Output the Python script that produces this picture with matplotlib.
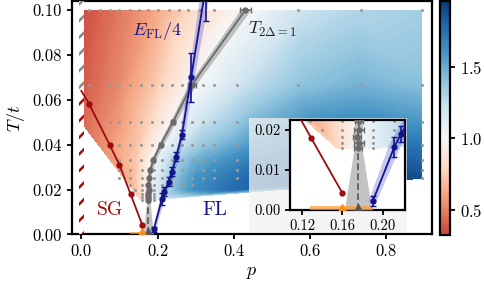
import numpy as np
import matplotlib.pyplot as plt
import matplotlib.tri as mtri
from matplotlib.colors import Normalize
from matplotlib.patches import Rectangle
from matplotlib.ticker import FormatStrFormatter

plt.rcParams["font.family"] = "serif"
plt.rcParams["font.serif"] = ["cmr10"]
plt.rcParams["mathtext.fontset"] = "cm"
plt.rcParams["axes.formatter.use_mathtext"] = True
plt.rcParams["axes.linewidth"] = 1.6
plt.rcParams["hatch.linewidth"] = 1.8

# colour field (value at each simulated point)
field_T = [0.1, 0.0667, 0.05, 0.04, 0.0333, 0.025, 0.02, 0.0154]
field_p = [
    [0.0, 0.1, 0.2, 0.3, 0.43, 0.57, 0.73, 0.893],
    [0.0, 0.1, 0.2, 0.29, 0.43, 0.57, 0.73, 0.893],
    [0.0, 0.1, 0.18, 0.24, 0.32, 0.45, 0.6, 0.75, 0.893],
    [0.074, 0.15, 0.209, 0.26, 0.32, 0.45, 0.6, 0.75, 0.893],
    [0.1, 0.15, 0.189, 0.24, 0.3, 0.45, 0.6, 0.75, 0.893],
    [0.128, 0.155, 0.177, 0.2, 0.25, 0.3, 0.45, 0.6, 0.75, 0.893],
    [0.14, 0.16, 0.176, 0.2, 0.25, 0.3, 0.41],
    [0.155, 0.175, 0.19],
]
field_z = [
    [0.34, 0.47, 0.62, 0.82, 1.0, 1.2, 1.3, 1.34],
    [0.38, 0.52, 0.74, 0.98, 1.22, 1.4, 1.47, 1.42],
    [0.42, 0.57, 0.78, 1.0, 1.22, 1.45, 1.6, 1.63, 1.58],
    [0.56, 0.72, 1.0, 1.2, 1.38, 1.58, 1.72, 1.78, 1.72],
    [0.62, 0.76, 1.0, 1.3, 1.48, 1.7, 1.82, 1.86, 1.8],
    [0.65, 0.8, 1.0, 1.15, 1.42, 1.6, 1.8, 1.9, 1.95, 1.88],
    [0.68, 0.86, 1.0, 1.15, 1.45, 1.62, 1.78],
    [0.78, 1.0, 1.08],
]

# grid of simulated points (grey dots)
dot_T = [0.1, 0.0667, 0.05, 0.04, 0.0333, 0.0286, 0.025, 0.0222, 0.02, 0.0182, 0.0167, 0.0154]
dot_p = [
    [0.0, 0.019, 0.05, 0.076, 0.1, 0.127, 0.15, 0.176, 0.202, 0.229, 0.255, 0.281, 0.31, 0.347, 0.568, 0.733, 0.893],
    [0.0, 0.019, 0.074, 0.1, 0.128, 0.156, 0.185, 0.211, 0.237, 0.264, 0.294, 0.32, 0.348, 0.408, 0.568, 0.733, 0.893],
    [0.0, 0.074, 0.1, 0.128, 0.156, 0.185, 0.211, 0.24, 0.264, 0.29, 0.32, 0.348, 0.408, 0.893],
    [0.074, 0.1, 0.128, 0.156, 0.185, 0.209, 0.237, 0.264, 0.29, 0.32, 0.348, 0.408, 0.893],
    [0.1, 0.128, 0.156, 0.185, 0.211, 0.237, 0.264, 0.29, 0.32, 0.348, 0.408, 0.893],
    [0.1, 0.128, 0.16, 0.19, 0.211, 0.237, 0.264, 0.29, 0.32, 0.348, 0.408, 0.893],
    [0.1, 0.128, 0.16, 0.19, 0.211, 0.237, 0.264, 0.29, 0.32, 0.348, 0.408, 0.893],
    [0.128, 0.16, 0.19, 0.211, 0.237, 0.264, 0.29],
    [0.14, 0.16, 0.19, 0.211],
    [0.16, 0.19],
    [0.16, 0.19],
    [0.16, 0.19],
]

# spin glass boundary
sg_p = [0.0, 0.021, 0.074, 0.1, 0.129, 0.16]
sg_T = [0.064, 0.058, 0.04, 0.031, 0.018, 0.0042]

# E_FL / 4
fl_p = [0.19, 0.2115, 0.218, 0.229, 0.238, 0.249, 0.264, 0.288, 0.326]
fl_T = [0.0022, 0.0158, 0.019, 0.0235, 0.028, 0.0345, 0.0445, 0.070, 0.11]
fl_err = [0.0012, 0.0025, 0.002, 0.002, 0.002, 0.002, 0.0022, 0.011, 0.015]
fl_band = [0.004, 0.006, 0.006, 0.006, 0.006, 0.006, 0.006, 0.008, 0.013]

# T_{2Delta=1}
t2d_T = [0.0154, 0.0167, 0.0182, 0.02, 0.0222, 0.025, 0.0286, 0.0333, 0.04, 0.05, 0.0667, 0.1]
t2d_p = [0.1755, 0.176, 0.1745, 0.1765, 0.176, 0.1775, 0.181, 0.189, 0.208, 0.24, 0.29, 0.43]
t2d_err = [0.004, 0.005, 0.004, 0.005, 0.004, 0.003, 0.003, 0.004, 0.004, 0.005, 0.01, 0.015]
t2d_band = [0.004, 0.004, 0.004, 0.004, 0.004, 0.004, 0.005, 0.006, 0.007, 0.008, 0.01, 0.014]
t2d_zero = 0.1755
t2d_zero_band = 0.0135

# orange critical point
sc_p = 0.16
sc_range = [0.128, 0.19]

SG_COL = "#a00a0a"
FL_COL = "#14148c"
GREY = "#6a6a6a"

fp = np.concatenate(field_p)
fT = np.concatenate([[t] * len(r) for t, r in zip(field_T, field_p)])
fz = np.concatenate(field_z)
tri0 = mtri.Triangulation(fp, fT * 10)
tri = mtri.Triangulation(fp, fT, tri0.triangles)
levels = np.linspace(0.32, 1.96, 120)
norm = Normalize(0, 2)

dp = np.concatenate(dot_p)
dT = np.concatenate([[t] * len(r) for t, r in zip(dot_T, dot_p)])


def draw(ax):
    cs = ax.tricontourf(tri, fz, levels=levels, cmap="RdBu", norm=norm, zorder=1)
    ax.plot(dp, dT, "o", ms=2.2, color="#9a9a9a", mew=0, zorder=2)

    # T_2Delta=1 line
    tp = np.array(t2d_p)
    tb = np.array(t2d_band)
    ax.fill_betweenx(t2d_T, tp - tb, tp + tb, color="#9a9a9a", alpha=0.6, lw=0, zorder=3)
    ax.fill_betweenx([0, t2d_T[0]], [t2d_zero - t2d_zero_band, tp[0] - tb[0]],
                     [t2d_zero + t2d_zero_band, tp[0] + tb[0]],
                     color="#9a9a9a", alpha=0.6, lw=0, zorder=3)
    ax.plot([t2d_zero, t2d_zero], [0, t2d_T[0]], ls=(0, (4, 2)), color="#555555", lw=1.2, zorder=4)
    ax.errorbar(t2d_p, t2d_T, xerr=t2d_err, fmt="-o", ms=3.5, color=GREY, lw=1.3,
                capsize=2, elinewidth=1.2, zorder=4)
    ax.plot(t2d_zero, 0, "^", ms=8, color="#555555", zorder=5)

    # orange
    ax.fill_between(sc_range, 0, 0.0009, color="#ff9933", alpha=0.7, lw=0, zorder=4)
    ax.plot(sc_p, 0, "^", ms=8, color="#ff8c1a", zorder=5)

    # E_FL/4
    fpa = np.array(fl_p)
    fb = np.array(fl_band)
    ax.fill_betweenx(fl_T, fpa - fb, fpa + fb, color="#4444cc", alpha=0.3, lw=0, zorder=3)
    ax.errorbar(fl_p, fl_T, yerr=fl_err, fmt="-o", ms=3.5, color=FL_COL, lw=1.3,
                capsize=2, elinewidth=1.2, zorder=5)

    # SG
    ax.plot(sg_p, sg_T, "-", color=SG_COL, lw=1.3, zorder=5)
    ax.plot(sg_p[1:], sg_T[1:], "o", ms=3.5, color=SG_COL, zorder=5)
    return cs


fig = plt.figure(figsize=(4.85, 2.81), dpi=100)
ax = fig.add_axes([0.148, 0.166, 0.743, 0.830])
cax = fig.add_axes([0.907, 0.163, 0.0206, 0.833])

cs = draw(ax)

# hatched stripes at p = 0
ax.fill_betweenx([0, 0.064], -0.006, 0.006, facecolor="white", edgecolor=SG_COL,
                 hatch="//", linewidth=0, zorder=4)
ax.fill_betweenx([0.064, 0.104], -0.006, 0.006, facecolor="white", edgecolor="#888888",
                 hatch="//", linewidth=0, zorder=4)

ax.text(0.2, 0.0906, r"$E_{\rm FL}/4$", color=FL_COL, fontsize=13, ha="center", va="center", zorder=6)
ax.text(0.438, 0.0915, r"$T_{2\Delta=1}$", color="#222222", fontsize=13, ha="left", va="center", zorder=6)
ax.text(0.075, 0.011, "SG", color=SG_COL, fontsize=14, ha="center", va="center", zorder=6)
ax.text(0.349, 0.011, "FL", color=FL_COL, fontsize=14, ha="center", va="center", zorder=6)

ax.set_xlim(-0.025, 0.92)
ax.set_ylim(0, 0.104)
ax.set_xticks([0.0, 0.2, 0.4, 0.6, 0.8])
ax.set_yticks([0.0, 0.02, 0.04, 0.06, 0.08, 0.10])
ax.xaxis.set_major_formatter(FormatStrFormatter("%.1f"))
ax.yaxis.set_major_formatter(FormatStrFormatter("%.2f"))
ax.tick_params(labelsize=12, length=3.5, width=1.3)
ax.set_xlabel(r"$p$", fontsize=13)
ax.set_ylabel(r"$T/t$", fontsize=13)

cb = fig.colorbar(cs, cax=cax, ticks=[0.5, 1.0, 1.5])
cb.ax.yaxis.set_major_formatter(FormatStrFormatter("%.1f"))
cb.ax.tick_params(labelsize=12, length=3.5, width=1.3)
cb.outline.set_linewidth(1.6)

# inset with a light backdrop
fig.add_artist(Rectangle((249 / 485, 1 - 232 / 281), 158 / 485, 114 / 281,
                         transform=fig.transFigure, facecolor="#f2f2f2", alpha=0.75,
                         lw=0, zorder=1))
axin = fig.add_axes([290 / 485, 1 - 210 / 281, 115 / 485, 90 / 281])
axin.set_zorder(3)
draw(axin)
axin.set_xlim(0.108, 0.222)
axin.set_ylim(0, 0.0225)
axin.set_xticks([0.12, 0.16, 0.20])
axin.set_yticks([0.0, 0.01, 0.02])
axin.xaxis.set_major_formatter(FormatStrFormatter("%.2f"))
axin.yaxis.set_major_formatter(FormatStrFormatter("%.2f"))
axin.tick_params(labelsize=10.5, length=3.5, width=1.3)

fig.savefig("out.png", dpi=100)
